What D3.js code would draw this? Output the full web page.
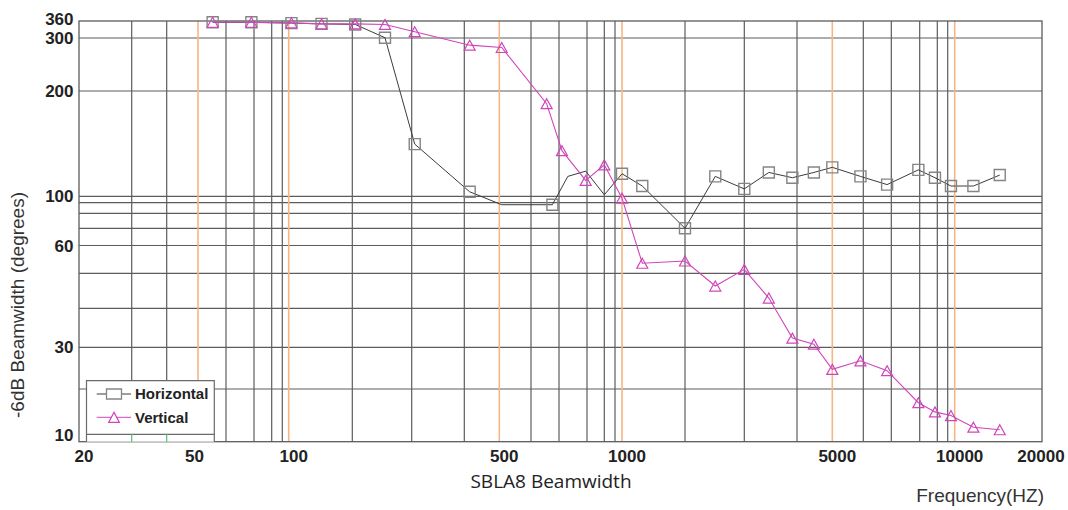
<!DOCTYPE html>
<html>
<head>
<meta charset="utf-8">
<script src="https://cdn.jsdelivr.net/npm/d3@7"></script>
<style>
  body { margin: 0; background: #fff; }
  svg { display: block; }
  .tick-label { font-family: "Liberation Sans", Arial, sans-serif; font-weight: bold; font-size: 17px; fill: #222; }
  .legend-label { font-family: "Liberation Sans", Arial, sans-serif; font-weight: bold; font-size: 15px; fill: #222; }
</style>
</head>
<body>
<div id="chart"></div>
<script>

// Grid and tick values (frequency in Hz, beamwidth in degrees)
var xGrid = [30, 40, 60, 70, 80, 90, 200, 300, 400, 600, 700, 800, 900, 950, 2000, 3000, 4000, 6000, 7000, 8000, 9000, 9500];
var xOrange = [50, 100, 500, 1000, 5000, 10000];
var xTicks = [20, 50, 100, 500, 1000, 5000, 10000, 20000];
var yGrid = [20, 30, 40, 50, 60, 70, 80, 90, 100, 200, 300];
var yTicks = [10, 30, 60, 100, 200, 300, 360];

// Horizontal -6dB beamwidth
var hFreq = [55, 69, 103, 143, 204, 250, 305, 414, 507, 675, 730, 795, 900, 1000, 1250, 2000, 2460, 3000, 3430, 3900, 4450, 5000, 5900, 6840, 7950, 8860, 9730, 11600, 14300];
var hWidth = [355, 355, 352, 349, 347, 301, 141, 103, 88, 88, 114, 118, 101, 116, 107, 70, 114, 105, 117, 113, 117, 121, 114, 108, 119, 113, 107, 107, 115];
var hUnmarked = [507, 730, 795, 900];

// Vertical -6dB beamwidth
var vFreq = [55, 69, 103, 143, 204, 250, 305, 414, 507, 654, 710, 795, 900, 1000, 1250, 2000, 2460, 3000, 3430, 3900, 4450, 5000, 5900, 6840, 7950, 8860, 9730, 11600, 14300];
var vWidth = [355, 355, 353, 349, 349, 347, 321, 284, 279, 184, 135, 111, 123, 97, 53.4, 54.2, 46.1, 51.3, 42.7, 32.1, 30.7, 24.2, 26.3, 23.9, 16.7, 14.8, 14.1, 12.1, 11.7];

var seriesNames = ["Horizontal", "Vertical"];

var width = 1068, height = 510;
var plotLeft = 79, plotRight = 1042, plotTop = 21, plotBottom = 441.7;

var svg = d3.select("#chart").append("svg")
  .attr("width", width)
  .attr("height", height);

svg.append("rect").attr("width", width).attr("height", height).attr("fill", "#fff");

// the printed grid is not an even log grid, so both scales are piecewise log scales
var x = d3.scaleLog()
  .domain([20, 30, 40, 50, 60, 70, 80, 90, 100, 200, 300, 400, 500, 600, 700, 800, 900, 950, 1000,
    2000, 3000, 4000, 5000, 6000, 7000, 8000, 9000, 9500, 10000, 20000])
  .range([plotLeft, 131.7, 166.7, 198, 226, 254, 271.7, 282.3, 288.7, 352.3, 411.7, 464.3, 499.3, 531, 559, 587, 604.3, 615, 622,
    685, 744.3, 797, 832.3, 863.3, 891.3, 919.7, 937.3, 947.7, 954.7, plotRight]);

var y = d3.scaleLog()
  .domain([10, 20, 30, 40, 50, 60, 70, 80, 90, 100, 200, 300, 360])
  .range([plotBottom, 389, 347.3, 308.3, 273.3, 245.5, 228.3, 213.3, 202.7, 196.3, 91, 38, plotTop]);

var grid = svg.append("g").attr("class", "grid");

grid.selectAll(".hgrid").data(yGrid).enter().append("line")
  .attr("class", "hgrid")
  .attr("x1", plotLeft).attr("x2", plotRight)
  .attr("y1", function(d) { return y(d); })
  .attr("y2", function(d) { return y(d); })
  .attr("stroke", "#5c5c5c").attr("stroke-width", 1.2);

grid.selectAll(".vgrid").data(xGrid).enter().append("line")
  .attr("class", "vgrid")
  .attr("y1", plotTop).attr("y2", plotBottom)
  .attr("x1", function(d) { return x(d); })
  .attr("x2", function(d) { return x(d); })
  .attr("stroke", "#5c5c5c").attr("stroke-width", 1.2);

grid.selectAll(".ogrid").data(xOrange).enter().append("line")
  .attr("class", "ogrid")
  .attr("y1", plotTop).attr("y2", plotBottom)
  .attr("x1", function(d) { return x(d); })
  .attr("x2", function(d) { return x(d); })
  .attr("stroke", "#f7b585").attr("stroke-width", 1.6);

// frame
grid.append("rect")
  .attr("x", plotLeft).attr("y", plotTop)
  .attr("width", plotRight - plotLeft).attr("height", plotBottom - plotTop)
  .attr("fill", "none").attr("stroke", "#5c5c5c").attr("stroke-width", 1.3);

// tick labels
svg.selectAll(".xlab").data(xTicks).enter().append("text")
  .attr("class", "tick-label xlab")
  .attr("x", function(d) {
    //labels are printed slightly right of their grid line, except at the ends
    var shift = d === 50 ? -3.5 : (d === 20000 ? -1 : 5);
    return x(d) + shift;
  })
  .attr("y", 462)
  .attr("text-anchor", "middle")
  .text(function(d) { return d; });

svg.selectAll(".ylab").data(yTicks).enter().append("text")
  .attr("class", "tick-label ylab")
  .attr("x", 73.5)
  .attr("y", function(d) {
    //end labels sit a little inside the frame
    var shift = d === 10 ? -6.5 : (d === 360 ? -2.3 : 0);
    return y(d) + shift;
  })
  .attr("dy", "0.36em")
  .attr("text-anchor", "end")
  .text(function(d) { return d; });

// axis titles
svg.append("text")
  .attr("transform", "translate(23.5,305) rotate(-90)")
  .attr("text-anchor", "middle")
  .style("font-family", "Liberation Sans, Arial, sans-serif")
  .style("font-size", "19px")
  .style("fill", "#333")
  .text("-6dB Beamwidth (degrees)");

svg.append("text")
  .attr("x", 551).attr("y", 487.5)
  .attr("text-anchor", "middle")
  .style("font-family", "Open Sans, sans-serif")
  .style("font-size", "19px")
  .style("fill", "#222")
  .text("SBLA8 Beamwidth");

svg.append("text")
  .attr("x", 1044).attr("y", 502)
  .attr("text-anchor", "end")
  .style("font-family", "Liberation Sans, Arial, sans-serif")
  .style("font-size", "19px")
  .style("fill", "#333")
  .text("Frequency(HZ)");

// series
var hPoints = hFreq.map(function(f, i) { return { f: f, v: hWidth[i] }; });
var vPoints = vFreq.map(function(f, i) { return { f: f, v: vWidth[i] }; });

var line = d3.line()
  .x(function(d) { return x(d.f); })
  .y(function(d) { return y(d.v); });

var hColor = "#3c3c3c", hMarker = "#858585", vColor = "#cf45bc";

function squarePath(w, h) {
  return "M" + (-w / 2) + "," + (-h / 2) + "h" + w + "v" + h + "h" + (-w) + "Z";
}

function trianglePath(w, h) {
  return "M0," + (-h / 2) + "L" + (w / 2) + "," + (h / 2) + "L" + (-w / 2) + "," + (h / 2) + "Z";
}

var plot = svg.append("g").attr("class", "plot");

plot.append("path").datum(hPoints)
  .attr("d", line)
  .attr("fill", "none").attr("stroke", hColor).attr("stroke-width", 1);

plot.append("path").datum(vPoints)
  .attr("d", line)
  .attr("fill", "none").attr("stroke", vColor).attr("stroke-width", 1.1);

plot.selectAll(".sq").data(hPoints.filter(function(d) { return hUnmarked.indexOf(d.f) < 0; }))
  .enter().append("path")
  .attr("class", "sq")
  .attr("transform", function(d) { return "translate(" + x(d.f) + "," + y(d.v) + ")"; })
  .attr("d", squarePath(11, 11))
  .attr("fill", "none").attr("stroke", hMarker).attr("stroke-width", 1.4);

plot.selectAll(".tri").data(vPoints)
  .enter().append("path")
  .attr("class", "tri")
  .attr("transform", function(d) { return "translate(" + x(d.f) + "," + y(d.v) + ")"; })
  .attr("d", trianglePath(11, 10))
  .attr("fill", "none").attr("stroke", vColor).attr("stroke-width", 1.2);

// legend
var legend = svg.append("g").attr("class", "legend");
var lx0 = 86.5, lx1 = 214.3, ly0 = 380.7, ly1 = 434.3;

legend.append("rect")
  .attr("x", lx0).attr("y", ly0)
  .attr("width", lx1 - lx0).attr("height", plotBottom - ly0)
  .attr("fill", "#fff");

legend.append("path")
  .attr("d", "M" + lx0 + "," + plotBottom + "V" + ly0 + "H" + lx1 + "V" + plotBottom + "M" + lx0 + "," + ly1 + "H" + lx1)
  .attr("fill", "none").attr("stroke", "#6a6a6a").attr("stroke-width", 1.2);

// grid lines peeking out under the legend
legend.selectAll(".peek").data(xGrid.filter(function(d) { return x(d) > lx0 && x(d) < lx1; }))
  .enter().append("line")
  .attr("class", "peek")
  .attr("x1", function(d) { return x(d); }).attr("x2", function(d) { return x(d); })
  .attr("y1", ly1).attr("y2", plotBottom)
  .attr("stroke", "#4cc46a").attr("stroke-width", 1.2);

var entries = legend.selectAll(".entry").data(seriesNames).enter().append("g")
  .attr("class", "entry")
  .attr("transform", function(d, i) { return "translate(0," + (394 + i * 23.3) + ")"; });

entries.append("line")
  .attr("x1", 96.7).attr("x2", 131)
  .attr("stroke", function(d, i) { return i === 0 ? hColor : vColor; })
  .attr("stroke-width", 1);

entries.append("path")
  .attr("transform", "translate(114,0)")
  .attr("d", function(d, i) { return i === 0 ? squarePath(15, 10) : trianglePath(10.5, 10); })
  .attr("fill", "#fff")
  .attr("stroke", function(d, i) { return i === 0 ? hMarker : vColor; })
  .attr("stroke-width", 1.3);

entries.append("text")
  .attr("class", "legend-label")
  .attr("x", 135)
  .attr("dy", "0.35em")
  .text(function(d) { return d; });

</script>
</body>
</html>
